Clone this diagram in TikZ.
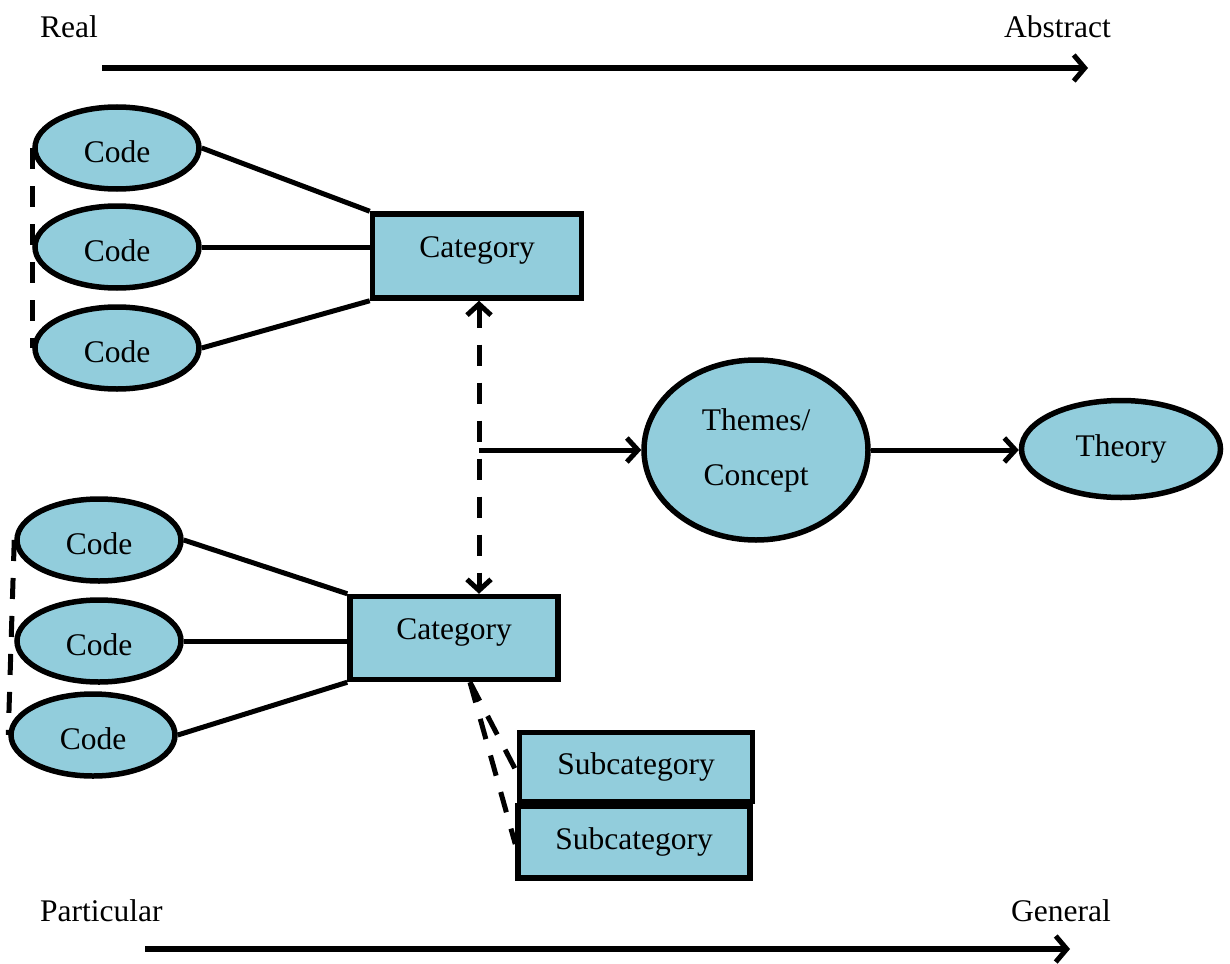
\documentclass[tikz,border=0pt]{standalone}
\usepackage{fontspec}
\setmainfont{Liberation Serif}
\usetikzlibrary{shapes.geometric,arrows.meta,calc}
\definecolor{boxblue}{HTML}{92CDDC}
\begin{document}
\begin{tikzpicture}[x=1pt,y=-1pt,
  every node/.style={font=\fontsize{31.5}{37}\selectfont, inner sep=0pt},
  codeshape/.style={ellipse, draw, fill=boxblue, line width=5.5pt, minimum width=164pt, minimum height=82pt, text height=28pt, text depth=0pt},
  catbox/.style={rectangle, draw, fill=boxblue, line width=5.5pt},
  hightext/.style={text height=22pt, text depth=20pt},
  link/.style={line width=5pt},
  dlink/.style={line width=5pt, dash pattern=on 21pt off 17pt},
  axis/.style={line width=5.5pt, -{Straight Barb[length=11pt,width=26pt,line width=5pt]}},
  arr/.style={line width=5pt, -{Straight Barb[length=11pt,width=24pt,line width=5pt]}},
  darr/.style={line width=5pt, dash pattern=on 21pt off 17pt, {Straight Barb[length=11pt,width=24pt,line width=5pt]}-{Straight Barb[length=11pt,width=24pt,line width=5pt]}}
]
\useasboundingbox (0,0) rectangle (1230,963);

% axis labels and arrows
\node[anchor=west] (real) at (40,27) {Real};
\node[anchor=east] (abstract) at (1111,27) {Abstract};
\coordinate (ta) at (102,68);
\coordinate (tb) at (1088,68);
\draw[axis] (ta) -- (tb);

\node[anchor=west] (particular) at (40,911) {Particular};
\node[anchor=east] (general) at (1111,911) {General};
\coordinate (ba) at (145,949);
\coordinate (bb) at (1070,949);
\draw[axis] (ba) -- (bb);

% upper group of codes
\node[codeshape] (c1) at (117,148) {Code};
\node[codeshape] (c2) at (117,247) {Code};
\node[codeshape] (c3) at (117,348) {Code};
\node[catbox, hightext, minimum width=209pt, minimum height=84pt] (cat1) at (477,256) {Category};
\draw[link] (c1.east) -- (cat1.north west);
\draw[link] (c2.east) -- (c2.east -| cat1.west);
\draw[link] (c3.east) -- (cat1.south west);
\draw[dlink] (c1.west) -- (c3.west);

% lower group of codes
\node[codeshape] (c4) at (99,540) {Code};
\node[codeshape] (c5) at (99,641) {Code};
\node[codeshape] (c6) at (93,735) {Code};
\node[catbox, hightext, minimum width=208pt, minimum height=83pt] (cat2) at (454,638) {Category};
\draw[link] (c4.east) -- (cat2.north west);
\draw[link] (c5.east) -- (c5.east -| cat2.west);
\draw[link] (c6.east) -- (cat2.south west);
\draw[dlink] (c4.west) -- (c6.west);

% categories to themes, themes to theory
\node[ellipse, draw, fill=boxblue, line width=5.5pt, minimum width=224pt, minimum height=180pt, align=center] (themes) at (756,450) {Themes/\\[18pt]Concept};
\node[ellipse, draw, fill=boxblue, line width=5.5pt, minimum width=199pt, minimum height=97pt] (theory) at (1121,449) {Theory};

\coordinate (top1) at ($(cat1.south)+(2,0)$);
\coordinate (top2) at (top1 |- cat2.north);
\draw[darr] (top1) -- (top2);
\coordinate (mid) at (top1 |- themes.west);
\draw[arr] (mid) -- (themes.west);
\draw[arr] (themes.east) -- (themes.east -| theory.west);

% subcategories
\node[catbox, minimum width=233pt, minimum height=69pt] (sub1) at (636,767) {Subcategory};
\node[catbox, minimum width=232pt, minimum height=72pt] (sub2) at (634,842) {Subcategory};
\coordinate (split) at ($(cat2.south)+(16,0)$);
\draw[dlink] (split) -- ($(sub1.west)+(0,5)$);
\draw[dlink] (split) -- ($(sub2.west)+(0,2)$);
\end{tikzpicture}
\end{document}
